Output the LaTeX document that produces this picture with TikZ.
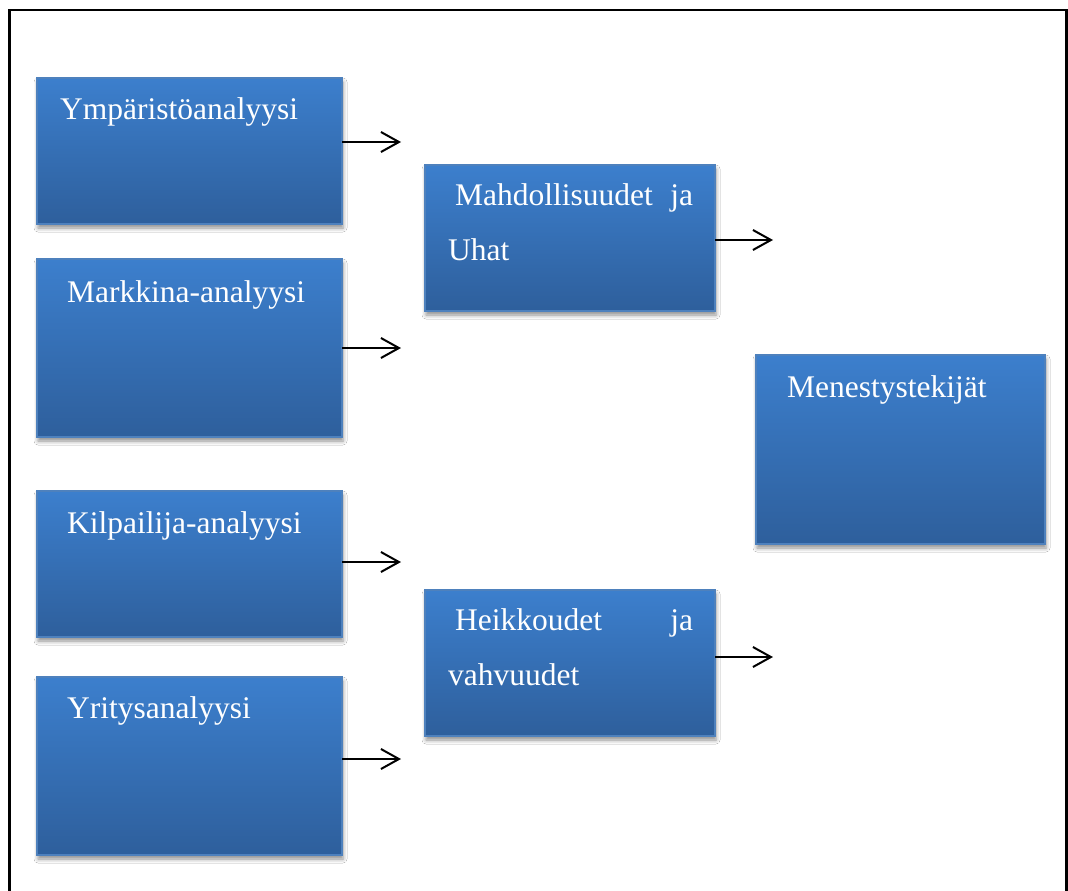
\documentclass[tikz,border=0pt]{standalone}
\usepackage{fontspec}
\setmainfont{Liberation Serif}
\usetikzlibrary{arrows.meta,shadows.blur,calc}
\definecolor{boxtop}{RGB}{60,127,205}
\definecolor{boxbottom}{RGB}{46,95,156}
\definecolor{boxedge}{RGB}{78,129,189}
\begin{document}
\begin{tikzpicture}[x=1pt,y=-1pt,
  blockbox/.style={rectangle, inner sep=0pt, outer sep=0pt,
    draw=boxedge, line width=1.5pt,
    top color=boxtop, bottom color=boxbottom,
    blur shadow={shadow xshift=1pt, shadow yshift=-4pt,
      shadow blur radius=4pt, shadow opacity=45}},
  boxtext/.style={anchor=base west, inner sep=0pt, text=white,
    font=\fontsize{31.5}{38}\selectfont},
  flow/.style={line width=2pt, -{Straight Barb[length=18pt,width=20pt,line width=2pt]}}]
\useasboundingbox (0,0) rectangle (1068,891);
\fill[white] (0,0) rectangle (1068,891);
% outer frame, open at the bottom
\draw[line width=2.6pt] (9.5,900) -- (9.5,10) -- (1066.5,10) -- (1066.5,900);

% analysis blocks
\node[blockbox, minimum width=305pt, minimum height=146pt] (b1) at (189.5,151) {};
\node[blockbox, minimum width=305pt, minimum height=178pt] (b2) at (189.5,348) {};
\node[blockbox, minimum width=305pt, minimum height=146pt] (b3) at (189.5,564) {};
\node[blockbox, minimum width=305pt, minimum height=178pt] (b4) at (189.5,766) {};
% summary blocks
\node[blockbox, minimum width=290pt, minimum height=146pt] (b5) at (570,238) {};
\node[blockbox, minimum width=290pt, minimum height=146pt] (b6) at (570,663) {};
% result block
\node[blockbox, minimum width=289pt, minimum height=189pt] (b7) at (900.5,449.5) {};

% labels
\node[boxtext] (t1) at (60,119) {Ympäristöanalyysi};
\node[boxtext] (t2) at (67,302) {Markkina-analyysi};
\node[boxtext] (t3) at (67,533) {Kilpailija-analyysi};
\node[boxtext] (t4) at (67,718) {Yritysanalyysi};
\node[boxtext] (t5a) at (455,205) {\makebox[238pt][s]{Mahdollisuudet ja}};
\node[boxtext] (t5b) at (448,260) {Uhat};
\node[boxtext] (t6a) at (455,630) {\makebox[238pt][s]{Heikkoudet ja}};
\node[boxtext] (t6b) at (448,685) {vahvuudet};
\node[boxtext] (t7) at (787,397) {Menestystekijät};

% arrow ends
\coordinate (e1) at (401,142);
\coordinate (e2) at (401,348);
\coordinate (e3) at (401,562);
\coordinate (e4) at (401,759);
\coordinate (e5) at (773,240);
\coordinate (e6) at (773,657);

\draw[flow] (b1.east |- e1) -- (e1);
\draw[flow] (b2.east |- e2) -- (e2);
\draw[flow] (b3.east |- e3) -- (e3);
\draw[flow] (b4.east |- e4) -- (e4);
\draw[flow] (b5.east |- e5) -- (e5);
\draw[flow] (b6.east |- e6) -- (e6);
\end{tikzpicture}
\end{document}
